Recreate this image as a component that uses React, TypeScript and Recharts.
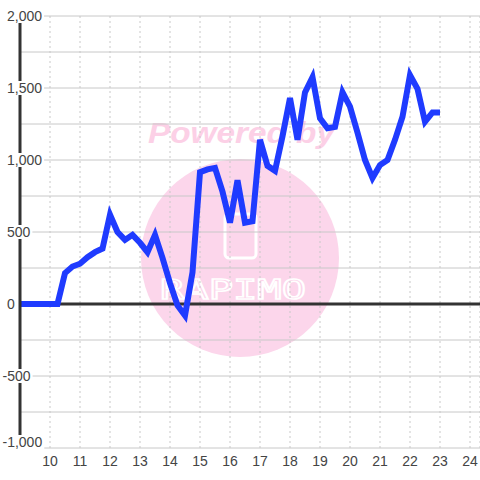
import React from 'react';
import { LineChart, Line, XAxis, YAxis, CartesianGrid, ReferenceLine } from 'recharts';

// hours of the day, every 15 minutes
const hours = [
  9, 9.25, 9.5, 9.75, 10, 10.25, 10.5, 10.75, 11, 11.25, 11.5, 11.75,
  12, 12.25, 12.5, 12.75, 13, 13.25, 13.5, 13.75, 14, 14.25, 14.5, 14.75,
  15, 15.25, 15.5, 15.75, 16, 16.25, 16.5, 16.75, 17, 17.25, 17.5, 17.75,
  18, 18.25, 18.5, 18.75, 19, 19.25, 19.5, 19.75, 20, 20.25, 20.5, 20.75,
  21, 21.25, 21.5, 21.75, 22, 22.25, 22.5, 22.75, 23,
];

const values = [
  0, 0, 0, 0, 0, 0, 215, 260, 280, 325, 360, 385,
  620, 500, 445, 480, 425, 360, 480, 320, 145, -10, -80, 220,
  915, 935, 945, 780, 565, 860, 565, 575, 1140, 960, 925, 1165,
  1430, 1140, 1470, 1575, 1290, 1220, 1230, 1470, 1370, 1190, 1000, 875,
  965, 1000, 1140, 1300, 1590, 1495, 1265, 1330, 1330,
];

const xTicks = [10, 11, 12, 13, 14, 15, 16, 17, 18, 19, 20, 21, 22, 23, 24];
const yTicks = [-1000, -750, -500, -250, 0, 250, 500, 750, 1000, 1250, 1500, 1750, 2000];

const data = hours.map((t, i) => ({ t, v: values[i] }));

const font = '"Liberation Sans", Arial, sans-serif';

const YTick = (props: any) => {
  const { y, payload } = props;
  const val = payload.value as number;
  if (val % 500 !== 0) return <g />;
  const label = val.toLocaleString('en-US');
  // rough text width for a white box behind the label
  let w = 0;
  for (const c of label) w += c === ',' ? 3.9 : c === '-' ? 4.7 : 7.8;
  const x = val < 0 ? 2.5 : 7;
  // the lowest label is lifted to stay inside the plot
  const lift = val === -1000 ? 6 : 0;
  return (
    <g>
      <rect x={x - 2} y={y - 7 - lift} width={w + 4} height={14 + lift} fill="#fff" />
      <text x={x} y={y - lift} dy={5} textAnchor="start" fontSize={14} fontFamily={font} fill="#444">
        {label}
      </text>
    </g>
  );
};

const Watermark = () => (
  <svg width={480} height={480} style={{ position: 'absolute', left: 0, top: 0 }}>
    <circle cx={240} cy={258} r={99} fill="#fcd6eb" />
    <text
      x={148}
      y={143}
      fontSize={29}
      fontWeight="bold"
      fontStyle="italic"
      fontFamily={font}
      fill="#fcd0e6"
      textLength={187}
      lengthAdjust="spacingAndGlyphs"
    >
      Powered by
    </text>
    <rect x={225} y={214} width={31} height={44} rx={4} fill="none" stroke="#fff" strokeWidth={3} />
    <text
      x={160}
      y={299}
      fontSize={27}
      fontFamily='"DejaVu Sans Mono", monospace'
      fill="none"
      stroke="#fff"
      strokeWidth={1.5}
      textLength={146}
      lengthAdjust="spacingAndGlyphs"
    >
      RAPIMO
    </text>
  </svg>
);

export default function App() {
  return (
    <div style={{ position: 'absolute', left: 0, top: 0, width: 480, height: 480, background: '#fff' }}>
      <Watermark />
      <div style={{ position: 'absolute', left: 0, top: 0 }}>
        <LineChart width={480} height={480} data={data} margin={{ top: 16, right: 0, left: 0, bottom: 0 }}>
          <CartesianGrid horizontal={false} stroke="#c8c8c8" strokeDasharray="2 3" />
          <CartesianGrid vertical={false} stroke="#c8c8c8" />
          <XAxis
            type="number"
            dataKey="t"
            domain={[9, 24 + 1 / 3]}
            ticks={xTicks}
            axisLine={false}
            tickLine={false}
            height={32}
            tick={{ fontSize: 14, fill: '#444', fontFamily: font }}
            interval={0}
            allowDataOverflow
          />
          <YAxis
            type="number"
            domain={[-1000, 2000]}
            ticks={yTicks}
            width={20}
            axisLine={{ stroke: '#333', strokeWidth: 3 }}
            tickLine={false}
            tick={YTick}
            interval={0}
          />
          <ReferenceLine y={0} stroke="#333" strokeWidth={3} />
          <Line
            type="linear"
            dataKey="v"
            stroke="#1f3bff"
            strokeWidth={6}
            dot={false}
            isAnimationActive={false}
          />
        </LineChart>
      </div>
    </div>
  );
}
